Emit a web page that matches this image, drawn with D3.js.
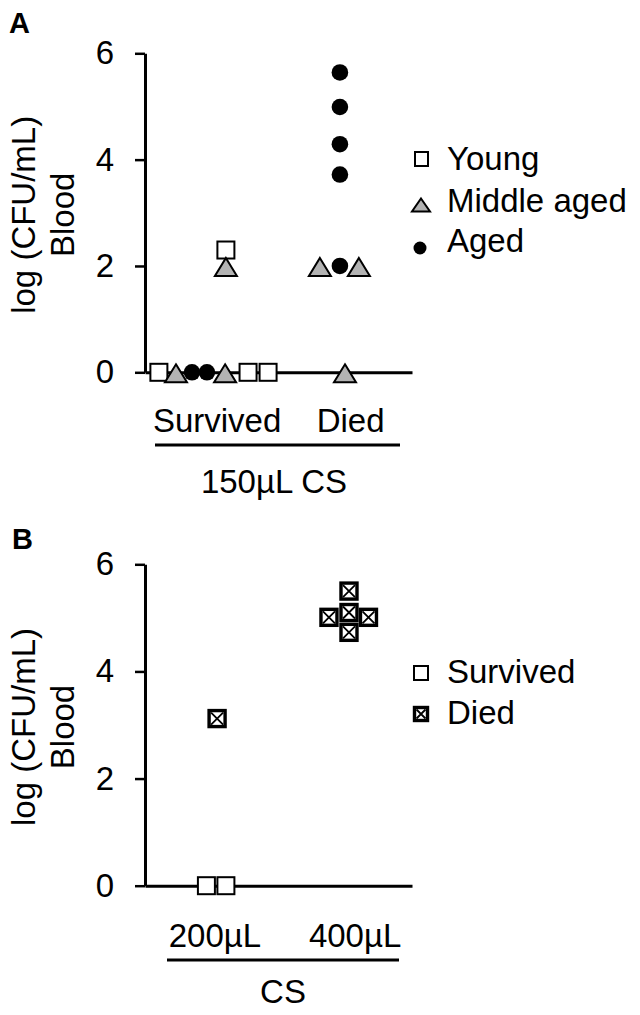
<!DOCTYPE html>
<html>
<head>
<meta charset="utf-8">
<script src="https://cdn.jsdelivr.net/npm/d3@7"></script>
<style>
  body { margin: 0; background: #fff; }
  svg text { font-family: "Liberation Sans", Arial, sans-serif; fill: #000; }
</style>
</head>
<body>
<script>
// panel A: 150uL CS, by age group
var aCategories = ["Survived", "Died"];
var aCategoryPos = [2.7, 7.7];
var aTitle = "150\u00b5L CS";
var young = [[0.52, 0], [3.86, 0], [4.61, 0], [3.03, 2.3]];
var middleAged = [[1.16, 0], [3.0, 0], [3.03, 2.0], [6.55, 2.0], [8.01, 2.0], [7.49, 0]];
var aged = [[1.76, 0], [2.32, 0], [7.30, 5.64], [7.30, 4.99], [7.30, 4.29], [7.30, 3.72], [7.30, 2.0]];
var aLegend = ["Young", "Middle aged", "Aged"];

// panel B: CS volume, by outcome
var bCategories = ["200\u00b5L", "400\u00b5L"];
var bCategoryPos = [2.62, 7.87];
var bTitle = "CS";
var survived = [[2.3, 0], [3.03, 0]];
var died = [[2.7, 3.12], [7.64, 5.50], [7.64, 5.10], [6.89, 5.01], [8.37, 5.01], [7.64, 4.73]];
var bLegend = ["Survived", "Died"];

var yTicks = [0, 2, 4, 6];
var FS = 33;

var width = 640, height = 1015;
var svg = d3.select("body").append("svg")
  .attr("width", width)
  .attr("height", height);

var x = d3.scaleLinear().domain([0, 10]).range([145, 412]);

function triPath(w, h) {
  return "M0," + (-h / 2) + "L" + (w / 2) + "," + (h / 2) + "L" + (-w / 2) + "," + (h / 2) + "Z";
}

function drawAxes(g, y, cats, catPos, title, labelY, lineY, lineX, titleX, titleY) {
  var yAxis = g.append("g")
    .attr("transform", "translate(145,0)")
    .call(d3.axisLeft(y).tickValues(yTicks).tickFormat(d3.format("d"))
      .tickSize(10).tickSizeOuter(0).tickPadding(21));
  yAxis.select(".domain").attr("stroke", "#000").attr("stroke-width", 3);
  yAxis.selectAll(".tick line").attr("stroke", "#000").attr("stroke-width", 2.5);
  yAxis.selectAll(".tick text")
    .attr("font-size", FS)
    .attr("font-family", "Liberation Sans, Arial, sans-serif")
    .attr("fill", "#000");

  var xAxis = g.append("g")
    .attr("transform", "translate(0," + y(0) + ")")
    .call(d3.axisBottom(x).tickValues([]).tickSizeOuter(0));
  xAxis.select(".domain").attr("stroke", "#000").attr("stroke-width", 3);

  g.selectAll(".cat")
    .data(cats)
    .enter().append("text")
    .attr("class", "cat")
    .attr("x", function(d, i) { return x(catPos[i]); })
    .attr("y", labelY)
    .attr("text-anchor", "middle")
    .attr("font-size", FS)
    .text(function(d) { return d; });

  g.append("line")
    .attr("x1", lineX[0]).attr("x2", lineX[1])
    .attr("y1", lineY).attr("y2", lineY)
    .attr("stroke", "#000").attr("stroke-width", 3);

  g.append("text")
    .attr("x", titleX).attr("y", titleY)
    .attr("text-anchor", "middle")
    .attr("font-size", FS)
    .text(title);

  var cy = (y(0) + y(6)) / 2 + 2;
  g.append("text")
    .attr("transform", "translate(35," + cy + ") rotate(-90)")
    .attr("text-anchor", "middle")
    .attr("font-size", FS)
    .text("log (CFU/mL)");
  g.append("text")
    .attr("transform", "translate(74," + cy + ") rotate(-90)")
    .attr("text-anchor", "middle")
    .attr("font-size", FS)
    .text("Blood");
}

// ---------- panel A ----------
var gA = svg.append("g");
var yA = d3.scaleLinear().domain([0, 6]).range([372.3, 53.3]);

gA.append("text").attr("x", 9).attr("y", 33)
  .attr("font-size", 29).attr("font-weight", "bold").text("A");

drawAxes(gA, yA, aCategories, aCategoryPos, aTitle, 432, 445, [155, 400], 274, 493);

gA.selectAll(".young")
  .data(young)
  .enter().append("rect")
  .attr("class", "young")
  .attr("x", function(d) { return x(d[0]) - 8.5; })
  .attr("y", function(d) { return yA(d[1]) - 8.5; })
  .attr("width", 17).attr("height", 17)
  .attr("fill", "#fff").attr("stroke", "#000").attr("stroke-width", 2);

gA.selectAll(".middle")
  .data(middleAged)
  .enter().append("path")
  .attr("class", "middle")
  .attr("d", triPath(22, 18))
  .attr("transform", function(d) { return "translate(" + x(d[0]) + "," + (yA(d[1]) + 1) + ")"; })
  .attr("fill", "#b3b3b3").attr("stroke", "#000").attr("stroke-width", 2)
  .attr("stroke-linejoin", "miter");

gA.selectAll(".aged")
  .data(aged)
  .enter().append("circle")
  .attr("class", "aged")
  .attr("cx", function(d) { return x(d[0]); })
  .attr("cy", function(d) { return yA(d[1]); })
  .attr("r", 8.3)
  .attr("fill", "#000");

// legend A
var legA = gA.append("g");
legA.append("rect").attr("x", 415).attr("y", 152).attr("width", 13).attr("height", 14)
  .attr("fill", "#fff").attr("stroke", "#000").attr("stroke-width", 2);
legA.append("path").attr("d", triPath(18, 13))
  .attr("transform", "translate(421,205)")
  .attr("fill", "#b3b3b3").attr("stroke", "#000").attr("stroke-width", 2);
legA.append("circle").attr("cx", 420).attr("cy", 248).attr("r", 6.5).attr("fill", "#000");
legA.selectAll(".leg")
  .data(aLegend)
  .enter().append("text")
  .attr("class", "leg")
  .attr("x", 447)
  .attr("y", function(d, i) { return [170, 212, 252][i]; })
  .attr("font-size", FS)
  .text(function(d) { return d; });

// ---------- panel B ----------
var gB = svg.append("g");
var yB = d3.scaleLinear().domain([0, 6]).range([885.7, 564.3]);

gB.append("text").attr("x", 12).attr("y", 549)
  .attr("font-size", 29).attr("font-weight", "bold").text("B");

drawAxes(gB, yB, bCategories, bCategoryPos, bTitle, 947, 960, [167, 399], 283, 1003);

gB.selectAll(".surv")
  .data(survived)
  .enter().append("rect")
  .attr("class", "surv")
  .attr("x", function(d) { return x(d[0]) - 8.5; })
  .attr("y", function(d) { return yB(d[1]) - 8.5; })
  .attr("width", 17).attr("height", 17)
  .attr("fill", "#fff").attr("stroke", "#000").attr("stroke-width", 2);

function crossBox(sel, s) {
  var h = s / 2;
  sel.append("rect")
    .attr("x", -h).attr("y", -h).attr("width", s).attr("height", s)
    .attr("fill", "#fff").attr("stroke", "#000").attr("stroke-width", 3.4);
  sel.append("path")
    .attr("d", "M" + (-h + 2) + "," + (-h + 2) + "L" + (h - 2) + "," + (h - 2) +
               "M" + (h - 2) + "," + (-h + 2) + "L" + (-h + 2) + "," + (h - 2))
    .attr("stroke", "#000").attr("stroke-width", 1.8);
}

gB.selectAll(".died")
  .data(died)
  .enter().append("g")
  .attr("class", "died")
  .attr("transform", function(d) { return "translate(" + x(d[0]) + "," + yB(d[1]) + ")"; })
  .call(crossBox, 16);

// legend B
var legB = gB.append("g");
legB.append("rect").attr("x", 414).attr("y", 666).attr("width", 14).attr("height", 14)
  .attr("fill", "#fff").attr("stroke", "#000").attr("stroke-width", 2);
legB.append("g").attr("transform", "translate(421,714)").call(crossBox, 13);
legB.selectAll(".leg")
  .data(bLegend)
  .enter().append("text")
  .attr("class", "leg")
  .attr("x", 447)
  .attr("y", function(d, i) { return [683, 724][i]; })
  .attr("font-size", FS)
  .text(function(d) { return d; });
</script>
</body>
</html>
